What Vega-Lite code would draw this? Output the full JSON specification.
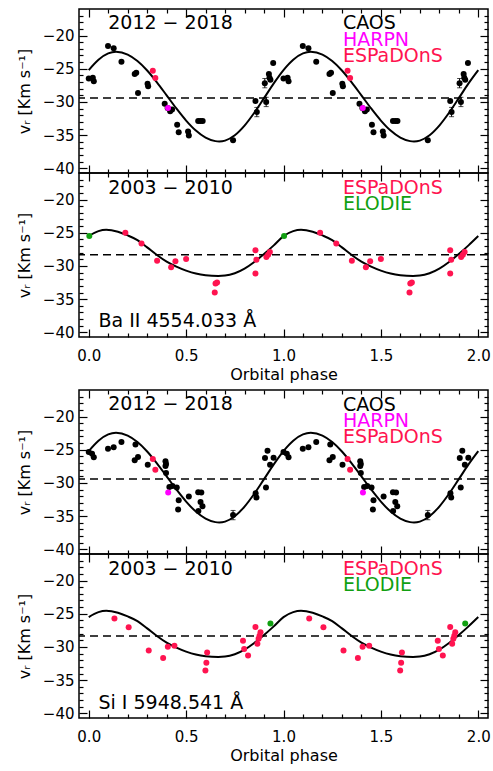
{
  "$schema": "https://vega.github.io/schema/vega-lite/v6.json",
  "padding": {"left": 15, "top": 7, "right": 0, "bottom": 0},
  "datasets": {
    "fit_2012": [
      {"phase": 0.00, "v": -25.20}, {"phase": 0.05, "v": -23.64}, {"phase": 0.10, "v": -22.69}, {"phase": 0.14, "v": -22.45},
      {"phase": 0.20, "v": -22.87}, {"phase": 0.25, "v": -23.84}, {"phase": 0.30, "v": -25.26}, {"phase": 0.35, "v": -27.04},
      {"phase": 0.40, "v": -29.00}, {"phase": 0.45, "v": -30.98}, {"phase": 0.50, "v": -32.80}, {"phase": 0.55, "v": -34.31},
      {"phase": 0.60, "v": -35.38}, {"phase": 0.65, "v": -35.90}, {"phase": 0.67, "v": -35.95}, {"phase": 0.70, "v": -35.82},
      {"phase": 0.75, "v": -35.01}, {"phase": 0.80, "v": -33.56}, {"phase": 0.85, "v": -31.63}, {"phase": 0.90, "v": -29.43},
      {"phase": 0.95, "v": -27.20}, {"phase": 1.00, "v": -25.20}, {"phase": 1.05, "v": -23.64}, {"phase": 1.10, "v": -22.69},
      {"phase": 1.14, "v": -22.45}, {"phase": 1.20, "v": -22.87}, {"phase": 1.25, "v": -23.84}, {"phase": 1.30, "v": -25.26},
      {"phase": 1.35, "v": -27.04}, {"phase": 1.40, "v": -29.00}, {"phase": 1.45, "v": -30.98}, {"phase": 1.50, "v": -32.80},
      {"phase": 1.55, "v": -34.31}, {"phase": 1.60, "v": -35.38}, {"phase": 1.65, "v": -35.90}, {"phase": 1.67, "v": -35.95},
      {"phase": 1.70, "v": -35.82}, {"phase": 1.75, "v": -35.01}, {"phase": 1.80, "v": -33.56}, {"phase": 1.85, "v": -31.63},
      {"phase": 1.90, "v": -29.43}, {"phase": 1.95, "v": -27.20}, {"phase": 2.00, "v": -25.20}
    ],
    "fit_2003": [
      {"phase": 0.00, "v": -25.50}, {"phase": 0.05, "v": -24.75}, {"phase": 0.09, "v": -24.55}, {"phase": 0.15, "v": -24.85},
      {"phase": 0.20, "v": -25.40}, {"phase": 0.25, "v": -26.10}, {"phase": 0.30, "v": -27.20}, {"phase": 0.35, "v": -28.35},
      {"phase": 0.40, "v": -29.35}, {"phase": 0.45, "v": -30.10}, {"phase": 0.50, "v": -30.70}, {"phase": 0.55, "v": -31.15},
      {"phase": 0.60, "v": -31.40}, {"phase": 0.665, "v": -31.50}, {"phase": 0.70, "v": -31.45}, {"phase": 0.75, "v": -31.10},
      {"phase": 0.80, "v": -30.40}, {"phase": 0.85, "v": -29.40}, {"phase": 0.90, "v": -28.20}, {"phase": 0.95, "v": -26.90},
      {"phase": 1.00, "v": -25.50}, {"phase": 1.05, "v": -24.75}, {"phase": 1.09, "v": -24.55}, {"phase": 1.15, "v": -24.85},
      {"phase": 1.20, "v": -25.40}, {"phase": 1.25, "v": -26.10}, {"phase": 1.30, "v": -27.20}, {"phase": 1.35, "v": -28.35},
      {"phase": 1.40, "v": -29.35}, {"phase": 1.45, "v": -30.10}, {"phase": 1.50, "v": -30.70}, {"phase": 1.55, "v": -31.15},
      {"phase": 1.60, "v": -31.40}, {"phase": 1.665, "v": -31.50}, {"phase": 1.70, "v": -31.45}, {"phase": 1.75, "v": -31.10},
      {"phase": 1.80, "v": -30.40}, {"phase": 1.85, "v": -29.40}, {"phase": 1.90, "v": -28.20}, {"phase": 1.95, "v": -26.90},
      {"phase": 2.00, "v": -25.50}
    ],
    "ba_2012": [
      {"phase": 0.000, "v": -26.47, "inst": "CAOS"}, {"phase": 1.000, "v": -26.47, "inst": "CAOS"},
      {"phase": 0.021, "v": -26.36, "inst": "CAOS"}, {"phase": 1.021, "v": -26.36, "inst": "CAOS"},
      {"phase": 0.026, "v": -26.87, "inst": "CAOS"}, {"phase": 1.026, "v": -26.87, "inst": "CAOS"},
      {"phase": 0.099, "v": -21.56, "inst": "CAOS"}, {"phase": 1.099, "v": -21.56, "inst": "CAOS"},
      {"phase": 0.128, "v": -21.92, "inst": "CAOS"}, {"phase": 1.128, "v": -21.92, "inst": "CAOS"},
      {"phase": 0.168, "v": -23.94, "inst": "CAOS"}, {"phase": 1.168, "v": -23.94, "inst": "CAOS"},
      {"phase": 0.236, "v": -25.80, "inst": "CAOS"}, {"phase": 1.236, "v": -25.80, "inst": "CAOS"},
      {"phase": 0.244, "v": -25.60, "inst": "CAOS"}, {"phase": 1.244, "v": -25.60, "inst": "CAOS"},
      {"phase": 0.253, "v": -28.64, "inst": "CAOS"}, {"phase": 1.253, "v": -28.64, "inst": "CAOS"},
      {"phase": 0.302, "v": -27.25, "inst": "CAOS"}, {"phase": 1.302, "v": -27.25, "inst": "CAOS"},
      {"phase": 0.305, "v": -27.65, "inst": "CAOS"}, {"phase": 1.305, "v": -27.65, "inst": "CAOS"},
      {"phase": 0.390, "v": -30.26, "inst": "CAOS"}, {"phase": 1.390, "v": -30.26, "inst": "CAOS"},
      {"phase": 0.405, "v": -30.90, "inst": "CAOS"}, {"phase": 1.405, "v": -30.90, "inst": "CAOS"},
      {"phase": 0.418, "v": -31.40, "inst": "CAOS"}, {"phase": 1.418, "v": -31.40, "inst": "CAOS"},
      {"phase": 0.428, "v": -31.15, "inst": "CAOS"}, {"phase": 1.428, "v": -31.15, "inst": "CAOS"},
      {"phase": 0.454, "v": -33.43, "inst": "CAOS"}, {"phase": 1.454, "v": -33.43, "inst": "CAOS"},
      {"phase": 0.462, "v": -34.55, "inst": "CAOS"}, {"phase": 1.462, "v": -34.55, "inst": "CAOS"},
      {"phase": 0.510, "v": -34.44, "inst": "CAOS"}, {"phase": 1.510, "v": -34.44, "inst": "CAOS"},
      {"phase": 0.514, "v": -35.05, "inst": "CAOS"}, {"phase": 1.514, "v": -35.05, "inst": "CAOS"},
      {"phase": 0.562, "v": -32.88, "inst": "CAOS"}, {"phase": 1.562, "v": -32.88, "inst": "CAOS"},
      {"phase": 0.574, "v": -32.88, "inst": "CAOS"}, {"phase": 1.574, "v": -32.88, "inst": "CAOS"},
      {"phase": 0.585, "v": -32.88, "inst": "CAOS"}, {"phase": 1.585, "v": -32.88, "inst": "CAOS"},
      {"phase": 0.741, "v": -35.76, "inst": "CAOS"}, {"phase": 1.741, "v": -35.76, "inst": "CAOS"},
      {"phase": 0.856, "v": -29.85, "inst": "CAOS"}, {"phase": 1.856, "v": -29.85, "inst": "CAOS"},
      {"phase": 0.863, "v": -31.52, "inst": "CAOS"}, {"phase": 1.863, "v": -31.52, "inst": "CAOS"},
      {"phase": 0.904, "v": -27.17, "inst": "CAOS"}, {"phase": 1.904, "v": -27.17, "inst": "CAOS"},
      {"phase": 0.911, "v": -30.00, "inst": "CAOS"}, {"phase": 1.911, "v": -30.00, "inst": "CAOS"},
      {"phase": 0.925, "v": -25.80, "inst": "CAOS"}, {"phase": 1.925, "v": -25.80, "inst": "CAOS"},
      {"phase": 0.928, "v": -26.36, "inst": "CAOS"}, {"phase": 1.928, "v": -26.36, "inst": "CAOS"},
      {"phase": 0.933, "v": -26.67, "inst": "CAOS"}, {"phase": 1.933, "v": -26.67, "inst": "CAOS"},
      {"phase": 0.947, "v": -24.14, "inst": "CAOS"}, {"phase": 1.947, "v": -24.14, "inst": "CAOS"},
      {"phase": 0.329, "v": -25.30, "inst": "ESPaDOnS"}, {"phase": 1.329, "v": -25.30, "inst": "ESPaDOnS"},
      {"phase": 0.342, "v": -26.41, "inst": "ESPaDOnS"}, {"phase": 1.342, "v": -26.41, "inst": "ESPaDOnS"},
      {"phase": 0.407, "v": -30.91, "inst": "HARPN"}, {"phase": 1.407, "v": -30.91, "inst": "HARPN"}
    ],
    "ba_2012_err": [
      {"phase": 0.863, "lo": -32.22, "hi": -30.82}, {"phase": 1.863, "lo": -32.22, "hi": -30.82},
      {"phase": 0.904, "lo": -27.87, "hi": -26.47}, {"phase": 1.904, "lo": -27.87, "hi": -26.47},
      {"phase": 0.911, "lo": -30.70, "hi": -29.30}, {"phase": 1.911, "lo": -30.70, "hi": -29.30}
    ],
    "ba_2003": [
      {"phase": 0.188, "v": -25.00, "inst": "ESPaDOnS"}, {"phase": 1.188, "v": -25.00, "inst": "ESPaDOnS"},
      {"phase": 0.271, "v": -26.60, "inst": "ESPaDOnS"}, {"phase": 1.271, "v": -26.60, "inst": "ESPaDOnS"},
      {"phase": 0.351, "v": -29.20, "inst": "ESPaDOnS"}, {"phase": 1.351, "v": -29.20, "inst": "ESPaDOnS"},
      {"phase": 0.423, "v": -30.20, "inst": "ESPaDOnS"}, {"phase": 1.423, "v": -30.20, "inst": "ESPaDOnS"},
      {"phase": 0.445, "v": -29.30, "inst": "ESPaDOnS"}, {"phase": 1.445, "v": -29.30, "inst": "ESPaDOnS"},
      {"phase": 0.500, "v": -28.95, "inst": "ESPaDOnS"}, {"phase": 1.500, "v": -28.95, "inst": "ESPaDOnS"},
      {"phase": 0.647, "v": -34.00, "inst": "ESPaDOnS"}, {"phase": 1.647, "v": -34.00, "inst": "ESPaDOnS"},
      {"phase": 0.651, "v": -32.65, "inst": "ESPaDOnS"}, {"phase": 1.651, "v": -32.65, "inst": "ESPaDOnS"},
      {"phase": 0.659, "v": -32.50, "inst": "ESPaDOnS"}, {"phase": 1.659, "v": -32.50, "inst": "ESPaDOnS"},
      {"phase": 0.856, "v": -27.65, "inst": "ESPaDOnS"}, {"phase": 1.856, "v": -27.65, "inst": "ESPaDOnS"},
      {"phase": 0.861, "v": -29.05, "inst": "ESPaDOnS"}, {"phase": 1.861, "v": -29.05, "inst": "ESPaDOnS"},
      {"phase": 0.856, "v": -31.15, "inst": "ESPaDOnS"}, {"phase": 1.856, "v": -31.15, "inst": "ESPaDOnS"},
      {"phase": 0.912, "v": -28.65, "inst": "ESPaDOnS"}, {"phase": 1.912, "v": -28.65, "inst": "ESPaDOnS"},
      {"phase": 0.921, "v": -28.30, "inst": "ESPaDOnS"}, {"phase": 1.921, "v": -28.30, "inst": "ESPaDOnS"},
      {"phase": 0.930, "v": -27.90, "inst": "ESPaDOnS"}, {"phase": 1.930, "v": -27.90, "inst": "ESPaDOnS"},
      {"phase": 0.003, "v": -25.50, "inst": "ELODIE"}, {"phase": 1.003, "v": -25.50, "inst": "ELODIE"}
    ],
    "si_2012": [
      {"phase": 0.000, "v": -25.32, "inst": "CAOS"}, {"phase": 1.000, "v": -25.32, "inst": "CAOS"},
      {"phase": 0.017, "v": -25.62, "inst": "CAOS"}, {"phase": 1.017, "v": -25.62, "inst": "CAOS"},
      {"phase": 0.026, "v": -26.13, "inst": "CAOS"}, {"phase": 1.026, "v": -26.13, "inst": "CAOS"},
      {"phase": 0.099, "v": -24.86, "inst": "CAOS"}, {"phase": 1.099, "v": -24.86, "inst": "CAOS"},
      {"phase": 0.128, "v": -24.61, "inst": "CAOS"}, {"phase": 1.128, "v": -24.61, "inst": "CAOS"},
      {"phase": 0.168, "v": -23.85, "inst": "CAOS"}, {"phase": 1.168, "v": -23.85, "inst": "CAOS"},
      {"phase": 0.240, "v": -24.20, "inst": "CAOS"}, {"phase": 1.240, "v": -24.20, "inst": "CAOS"},
      {"phase": 0.236, "v": -26.58, "inst": "CAOS"}, {"phase": 1.236, "v": -26.58, "inst": "CAOS"},
      {"phase": 0.253, "v": -26.08, "inst": "CAOS"}, {"phase": 1.253, "v": -26.08, "inst": "CAOS"},
      {"phase": 0.303, "v": -27.24, "inst": "CAOS"}, {"phase": 1.303, "v": -27.24, "inst": "CAOS"},
      {"phase": 0.394, "v": -26.73, "inst": "CAOS"}, {"phase": 1.394, "v": -26.73, "inst": "CAOS"},
      {"phase": 0.397, "v": -27.14, "inst": "CAOS"}, {"phase": 1.397, "v": -27.14, "inst": "CAOS"},
      {"phase": 0.394, "v": -27.45, "inst": "CAOS"}, {"phase": 1.394, "v": -27.45, "inst": "CAOS"},
      {"phase": 0.397, "v": -28.51, "inst": "CAOS"}, {"phase": 1.397, "v": -28.51, "inst": "CAOS"},
      {"phase": 0.414, "v": -30.60, "inst": "CAOS"}, {"phase": 1.414, "v": -30.60, "inst": "CAOS"},
      {"phase": 0.430, "v": -30.45, "inst": "CAOS"}, {"phase": 1.430, "v": -30.45, "inst": "CAOS"},
      {"phase": 0.452, "v": -30.70, "inst": "CAOS"}, {"phase": 1.452, "v": -30.70, "inst": "CAOS"},
      {"phase": 0.462, "v": -32.60, "inst": "CAOS"}, {"phase": 1.462, "v": -32.60, "inst": "CAOS"},
      {"phase": 0.459, "v": -34.00, "inst": "CAOS"}, {"phase": 1.459, "v": -34.00, "inst": "CAOS"},
      {"phase": 0.514, "v": -32.05, "inst": "CAOS"}, {"phase": 1.514, "v": -32.05, "inst": "CAOS"},
      {"phase": 0.562, "v": -31.39, "inst": "CAOS"}, {"phase": 1.562, "v": -31.39, "inst": "CAOS"},
      {"phase": 0.578, "v": -31.45, "inst": "CAOS"}, {"phase": 1.578, "v": -31.45, "inst": "CAOS"},
      {"phase": 0.574, "v": -32.85, "inst": "CAOS"}, {"phase": 1.574, "v": -32.85, "inst": "CAOS"},
      {"phase": 0.584, "v": -33.50, "inst": "CAOS"}, {"phase": 1.584, "v": -33.50, "inst": "CAOS"},
      {"phase": 0.563, "v": -34.23, "inst": "CAOS"}, {"phase": 1.563, "v": -34.23, "inst": "CAOS"},
      {"phase": 0.741, "v": -34.84, "inst": "CAOS"}, {"phase": 1.741, "v": -34.84, "inst": "CAOS"},
      {"phase": 0.857, "v": -31.55, "inst": "CAOS"}, {"phase": 1.857, "v": -31.55, "inst": "CAOS"},
      {"phase": 0.861, "v": -32.20, "inst": "CAOS"}, {"phase": 1.861, "v": -32.20, "inst": "CAOS"},
      {"phase": 0.905, "v": -26.25, "inst": "CAOS"}, {"phase": 1.905, "v": -26.25, "inst": "CAOS"},
      {"phase": 0.918, "v": -25.15, "inst": "CAOS"}, {"phase": 1.918, "v": -25.15, "inst": "CAOS"},
      {"phase": 0.931, "v": -27.25, "inst": "CAOS"}, {"phase": 1.931, "v": -27.25, "inst": "CAOS"},
      {"phase": 0.949, "v": -26.20, "inst": "CAOS"}, {"phase": 1.949, "v": -26.20, "inst": "CAOS"},
      {"phase": 0.910, "v": -30.70, "inst": "CAOS"}, {"phase": 1.910, "v": -30.70, "inst": "CAOS"},
      {"phase": 0.329, "v": -26.38, "inst": "ESPaDOnS"}, {"phase": 1.329, "v": -26.38, "inst": "ESPaDOnS"},
      {"phase": 0.342, "v": -28.00, "inst": "ESPaDOnS"}, {"phase": 1.342, "v": -28.00, "inst": "ESPaDOnS"},
      {"phase": 0.408, "v": -31.44, "inst": "HARPN"}, {"phase": 1.408, "v": -31.44, "inst": "HARPN"}
    ],
    "si_2012_err": [
      {"phase": 0.741, "lo": -35.54, "hi": -34.14}, {"phase": 1.741, "lo": -35.54, "hi": -34.14}
    ],
    "si_2003": [
      {"phase": 0.132, "v": -25.71, "inst": "ESPaDOnS"}, {"phase": 1.132, "v": -25.71, "inst": "ESPaDOnS"},
      {"phase": 0.205, "v": -27.03, "inst": "ESPaDOnS"}, {"phase": 1.205, "v": -27.03, "inst": "ESPaDOnS"},
      {"phase": 0.308, "v": -30.52, "inst": "ESPaDOnS"}, {"phase": 1.308, "v": -30.52, "inst": "ESPaDOnS"},
      {"phase": 0.382, "v": -31.68, "inst": "ESPaDOnS"}, {"phase": 1.382, "v": -31.68, "inst": "ESPaDOnS"},
      {"phase": 0.406, "v": -29.96, "inst": "ESPaDOnS"}, {"phase": 1.406, "v": -29.96, "inst": "ESPaDOnS"},
      {"phase": 0.440, "v": -29.81, "inst": "ESPaDOnS"}, {"phase": 1.440, "v": -29.81, "inst": "ESPaDOnS"},
      {"phase": 0.608, "v": -30.82, "inst": "ESPaDOnS"}, {"phase": 1.608, "v": -30.82, "inst": "ESPaDOnS"},
      {"phase": 0.604, "v": -32.39, "inst": "ESPaDOnS"}, {"phase": 1.604, "v": -32.39, "inst": "ESPaDOnS"},
      {"phase": 0.599, "v": -33.56, "inst": "ESPaDOnS"}, {"phase": 1.599, "v": -33.56, "inst": "ESPaDOnS"},
      {"phase": 0.792, "v": -29.05, "inst": "ESPaDOnS"}, {"phase": 1.792, "v": -29.05, "inst": "ESPaDOnS"},
      {"phase": 0.798, "v": -30.30, "inst": "ESPaDOnS"}, {"phase": 1.798, "v": -30.30, "inst": "ESPaDOnS"},
      {"phase": 0.818, "v": -31.28, "inst": "ESPaDOnS"}, {"phase": 1.818, "v": -31.28, "inst": "ESPaDOnS"},
      {"phase": 0.856, "v": -27.00, "inst": "ESPaDOnS"}, {"phase": 1.856, "v": -27.00, "inst": "ESPaDOnS"},
      {"phase": 0.882, "v": -27.80, "inst": "ESPaDOnS"}, {"phase": 1.882, "v": -27.80, "inst": "ESPaDOnS"},
      {"phase": 0.877, "v": -28.30, "inst": "ESPaDOnS"}, {"phase": 1.877, "v": -28.30, "inst": "ESPaDOnS"},
      {"phase": 0.872, "v": -28.75, "inst": "ESPaDOnS"}, {"phase": 1.872, "v": -28.75, "inst": "ESPaDOnS"},
      {"phase": 0.866, "v": -29.50, "inst": "ESPaDOnS"}, {"phase": 1.866, "v": -29.50, "inst": "ESPaDOnS"},
      {"phase": 0.933, "v": -26.47, "inst": "ELODIE"}, {"phase": 1.933, "v": -26.47, "inst": "ELODIE"}
    ]
  },
  "vconcat": [
    {
      "spacing": 0,
      "bounds": "flush",
      "vconcat": [
        {
          "width": 409, "height": 164,
          "layer": [
            {"data": {"name": "fit_2012"},
             "mark": {"type": "line", "color": "black", "strokeWidth": 2, "interpolate": "monotone"},
             "encoding": {
               "x": {"field": "phase", "type": "quantitative", "scale": {"domain": [-0.05, 2.05], "nice": false, "zero": false},
                     "axis": {"orient": "bottom", "values": [0, 0.5, 1, 1.5, 2], "tickSize": -8, "labels": false, "title": null}},
               "y": {"field": "v", "type": "quantitative", "scale": {"domain": [-40.7, -16], "nice": false, "zero": false},
                     "axis": {"orient": "left", "values": [-40, -35, -30, -25, -20], "tickSize": -8, "labelPadding": 13, "format": "d", "title": "vᵣ [Km s⁻¹]", "titlePadding": 10}}
             }},
            {"data": {"values": [{}]},
             "mark": {"type": "rule", "color": "black", "strokeWidth": 1.5, "strokeDash": [8, 5]},
             "encoding": {"y": {"datum": -29.4, "type": "quantitative", "axis": null}}},
            {"data": {"name": "ba_2012"},
             "mark": {"type": "circle", "size": 36, "opacity": 1},
             "encoding": {
               "x": {"field": "phase", "type": "quantitative",
                     "axis": {"orient": "bottom", "values": [0.1, 0.2, 0.3, 0.4, 0.6, 0.7, 0.8, 0.9, 1.1, 1.2, 1.3, 1.4, 1.6, 1.7, 1.8, 1.9], "tickSize": -4, "labels": false, "title": null}},
               "y": {"field": "v", "type": "quantitative",
                     "axis": {"orient": "left", "values": [-39, -38, -37, -36, -34, -33, -32, -31, -29, -28, -27, -26, -24, -23, -22, -21, -19, -18, -17], "tickSize": -4, "labels": false, "title": null}},
               "color": {"field": "inst", "type": "nominal", "legend": null,
                         "scale": {"domain": ["CAOS", "HARPN", "ESPaDOnS", "ELODIE"], "range": ["#000000", "#ff00ff", "#ff1450", "#11a011"]}}
             }},
            {"data": {"name": "ba_2012_err"},
             "mark": {"type": "errorbar", "color": "black", "thickness": 1, "ticks": {"size": 5, "thickness": 1}},
             "encoding": {
               "x": {"field": "phase", "type": "quantitative", "axis": null},
               "y": {"field": "lo", "type": "quantitative", "axis": null},
               "y2": {"field": "hi"}
             }},
            {"data": {"values": [{}]},
             "mark": {"type": "text", "align": "left", "baseline": "alphabetic", "color": "black"},
             "encoding": {
               "x": {"datum": 0.1, "type": "quantitative", "axis": {"orient": "top", "values": [0, 0.5, 1, 1.5, 2], "tickSize": -8, "labels": false, "title": null}},
               "y": {"datum": -19.0, "type": "quantitative", "axis": {"orient": "right", "values": [-40, -35, -30, -25, -20], "tickSize": -8, "labels": false, "title": null}},
               "text": {"value": "2012  −  2018"}
             }},
            {"data": {"values": [{}]},
             "mark": {"type": "text", "align": "left", "baseline": "alphabetic", "color": "black"},
             "encoding": {
               "x": {"datum": 1.305, "type": "quantitative", "axis": {"orient": "top", "values": [0.1, 0.2, 0.3, 0.4, 0.6, 0.7, 0.8, 0.9, 1.1, 1.2, 1.3, 1.4, 1.6, 1.7, 1.8, 1.9], "tickSize": -4, "labels": false, "title": null}},
               "y": {"datum": -19.0, "type": "quantitative", "axis": {"orient": "right", "values": [-39, -38, -37, -36, -34, -33, -32, -31, -29, -28, -27, -26, -24, -23, -22, -21, -19, -18, -17], "tickSize": -4, "labels": false, "title": null}},
               "text": {"value": "CAOS"}
             }},
            {"data": {"values": [{}]},
             "mark": {"type": "text", "align": "left", "baseline": "alphabetic", "color": "#ff00ff"},
             "encoding": {
               "x": {"datum": 1.305, "type": "quantitative", "axis": null},
               "y": {"datum": -21.5, "type": "quantitative", "axis": null},
               "text": {"value": "HARPN"}
             }},
            {"data": {"values": [{}]},
             "mark": {"type": "text", "align": "left", "baseline": "alphabetic", "color": "#ff1450"},
             "encoding": {
               "x": {"datum": 1.305, "type": "quantitative", "axis": null},
               "y": {"datum": -24.0, "type": "quantitative", "axis": null},
               "text": {"value": "ESPaDOnS"}
             }}
          ],
          "resolve": {"axis": {"x": "independent", "y": "independent"}}
        },
        {
          "width": 409, "height": 164,
          "layer": [
            {"data": {"name": "fit_2003"},
             "mark": {"type": "line", "color": "black", "strokeWidth": 2, "interpolate": "monotone"},
             "encoding": {
               "x": {"field": "phase", "type": "quantitative", "scale": {"domain": [-0.05, 2.05], "nice": false, "zero": false},
                     "axis": {"orient": "bottom", "values": [0, 0.5, 1, 1.5, 2], "tickSize": -8, "labelPadding": 19, "format": ".1f", "title": "Orbital phase", "titlePadding": 3}},
               "y": {"field": "v", "type": "quantitative", "scale": {"domain": [-40.7, -16], "nice": false, "zero": false},
                     "axis": {"orient": "left", "values": [-40, -35, -30, -25, -20], "tickSize": -8, "labelPadding": 13, "format": "d", "title": "vᵣ [Km s⁻¹]", "titlePadding": 10}}
             }},
            {"data": {"values": [{}]},
             "mark": {"type": "rule", "color": "black", "strokeWidth": 1.5, "strokeDash": [8, 5]},
             "encoding": {"y": {"datum": -28.3, "type": "quantitative", "axis": null}}},
            {"data": {"name": "ba_2003"},
             "mark": {"type": "circle", "size": 36, "opacity": 1},
             "encoding": {
               "x": {"field": "phase", "type": "quantitative",
                     "axis": {"orient": "bottom", "values": [0.1, 0.2, 0.3, 0.4, 0.6, 0.7, 0.8, 0.9, 1.1, 1.2, 1.3, 1.4, 1.6, 1.7, 1.8, 1.9], "tickSize": -4, "labels": false, "title": null}},
               "y": {"field": "v", "type": "quantitative",
                     "axis": {"orient": "left", "values": [-39, -38, -37, -36, -34, -33, -32, -31, -29, -28, -27, -26, -24, -23, -22, -21, -19, -18, -17], "tickSize": -4, "labels": false, "title": null}},
               "color": {"field": "inst", "type": "nominal", "legend": null,
                         "scale": {"domain": ["CAOS", "HARPN", "ESPaDOnS", "ELODIE"], "range": ["#000000", "#ff00ff", "#ff1450", "#11a011"]}}
             }},
            {"data": {"values": [{}]},
             "mark": {"type": "text", "align": "left", "baseline": "alphabetic", "color": "black"},
             "encoding": {
               "x": {"datum": 0.1, "type": "quantitative", "axis": {"orient": "top", "values": [0, 0.5, 1, 1.5, 2], "tickSize": -8, "labels": false, "title": null}},
               "y": {"datum": -19.1, "type": "quantitative", "axis": {"orient": "right", "values": [-40, -35, -30, -25, -20], "tickSize": -8, "labels": false, "title": null}},
               "text": {"value": "2003  −  2010"}
             }},
            {"data": {"values": [{}]},
             "mark": {"type": "text", "align": "left", "baseline": "alphabetic", "color": "#ff1450"},
             "encoding": {
               "x": {"datum": 1.305, "type": "quantitative", "axis": {"orient": "top", "values": [0.1, 0.2, 0.3, 0.4, 0.6, 0.7, 0.8, 0.9, 1.1, 1.2, 1.3, 1.4, 1.6, 1.7, 1.8, 1.9], "tickSize": -4, "labels": false, "title": null}},
               "y": {"datum": -19.1, "type": "quantitative", "axis": {"orient": "right", "values": [-39, -38, -37, -36, -34, -33, -32, -31, -29, -28, -27, -26, -24, -23, -22, -21, -19, -18, -17], "tickSize": -4, "labels": false, "title": null}},
               "text": {"value": "ESPaDOnS"}
             }},
            {"data": {"values": [{}]},
             "mark": {"type": "text", "align": "left", "baseline": "alphabetic", "color": "#11a011"},
             "encoding": {
               "x": {"datum": 1.305, "type": "quantitative", "axis": null},
               "y": {"datum": -21.6, "type": "quantitative", "axis": null},
               "text": {"value": "ELODIE"}
             }},
            {"data": {"values": [{}]},
             "mark": {"type": "text", "align": "left", "baseline": "alphabetic", "color": "black"},
             "encoding": {
               "x": {"datum": 0.05, "type": "quantitative", "axis": null},
               "y": {"datum": -39.25, "type": "quantitative", "axis": null},
               "text": {"value": "Ba  II  4554.033  Å"}
             }}
          ],
          "resolve": {"axis": {"x": "independent", "y": "independent"}}
        }
      ]
    },
    {
      "spacing": 0,
      "bounds": "flush",
      "vconcat": [
        {
          "width": 409, "height": 164,
          "layer": [
            {"data": {"name": "fit_2012"},
             "mark": {"type": "line", "color": "black", "strokeWidth": 2, "interpolate": "monotone"},
             "encoding": {
               "x": {"field": "phase", "type": "quantitative", "scale": {"domain": [-0.05, 2.05], "nice": false, "zero": false},
                     "axis": {"orient": "bottom", "values": [0, 0.5, 1, 1.5, 2], "tickSize": -8, "labels": false, "title": null}},
               "y": {"field": "v", "type": "quantitative", "scale": {"domain": [-40.7, -16], "nice": false, "zero": false},
                     "axis": {"orient": "left", "values": [-40, -35, -30, -25, -20], "tickSize": -8, "labelPadding": 13, "format": "d", "title": "vᵣ [Km s⁻¹]", "titlePadding": 10}}
             }},
            {"data": {"values": [{}]},
             "mark": {"type": "rule", "color": "black", "strokeWidth": 1.5, "strokeDash": [8, 5]},
             "encoding": {"y": {"datum": -29.4, "type": "quantitative", "axis": null}}},
            {"data": {"name": "si_2012"},
             "mark": {"type": "circle", "size": 36, "opacity": 1},
             "encoding": {
               "x": {"field": "phase", "type": "quantitative",
                     "axis": {"orient": "bottom", "values": [0.1, 0.2, 0.3, 0.4, 0.6, 0.7, 0.8, 0.9, 1.1, 1.2, 1.3, 1.4, 1.6, 1.7, 1.8, 1.9], "tickSize": -4, "labels": false, "title": null}},
               "y": {"field": "v", "type": "quantitative",
                     "axis": {"orient": "left", "values": [-39, -38, -37, -36, -34, -33, -32, -31, -29, -28, -27, -26, -24, -23, -22, -21, -19, -18, -17], "tickSize": -4, "labels": false, "title": null}},
               "color": {"field": "inst", "type": "nominal", "legend": null,
                         "scale": {"domain": ["CAOS", "HARPN", "ESPaDOnS", "ELODIE"], "range": ["#000000", "#ff00ff", "#ff1450", "#11a011"]}}
             }},
            {"data": {"name": "si_2012_err"},
             "mark": {"type": "errorbar", "color": "black", "thickness": 1, "ticks": {"size": 5, "thickness": 1}},
             "encoding": {
               "x": {"field": "phase", "type": "quantitative", "axis": null},
               "y": {"field": "lo", "type": "quantitative", "axis": null},
               "y2": {"field": "hi"}
             }},
            {"data": {"values": [{}]},
             "mark": {"type": "text", "align": "left", "baseline": "alphabetic", "color": "black"},
             "encoding": {
               "x": {"datum": 0.1, "type": "quantitative", "axis": {"orient": "top", "values": [0, 0.5, 1, 1.5, 2], "tickSize": -8, "labels": false, "title": null}},
               "y": {"datum": -19.0, "type": "quantitative", "axis": {"orient": "right", "values": [-40, -35, -30, -25, -20], "tickSize": -8, "labels": false, "title": null}},
               "text": {"value": "2012  −  2018"}
             }},
            {"data": {"values": [{}]},
             "mark": {"type": "text", "align": "left", "baseline": "alphabetic", "color": "black"},
             "encoding": {
               "x": {"datum": 1.305, "type": "quantitative", "axis": {"orient": "top", "values": [0.1, 0.2, 0.3, 0.4, 0.6, 0.7, 0.8, 0.9, 1.1, 1.2, 1.3, 1.4, 1.6, 1.7, 1.8, 1.9], "tickSize": -4, "labels": false, "title": null}},
               "y": {"datum": -19.1, "type": "quantitative", "axis": {"orient": "right", "values": [-39, -38, -37, -36, -34, -33, -32, -31, -29, -28, -27, -26, -24, -23, -22, -21, -19, -18, -17], "tickSize": -4, "labels": false, "title": null}},
               "text": {"value": "CAOS"}
             }},
            {"data": {"values": [{}]},
             "mark": {"type": "text", "align": "left", "baseline": "alphabetic", "color": "#ff00ff"},
             "encoding": {
               "x": {"datum": 1.305, "type": "quantitative", "axis": null},
               "y": {"datum": -21.55, "type": "quantitative", "axis": null},
               "text": {"value": "HARPN"}
             }},
            {"data": {"values": [{}]},
             "mark": {"type": "text", "align": "left", "baseline": "alphabetic", "color": "#ff1450"},
             "encoding": {
               "x": {"datum": 1.305, "type": "quantitative", "axis": null},
               "y": {"datum": -24.05, "type": "quantitative", "axis": null},
               "text": {"value": "ESPaDOnS"}
             }}
          ],
          "resolve": {"axis": {"x": "independent", "y": "independent"}}
        },
        {
          "width": 409, "height": 164,
          "layer": [
            {"data": {"name": "fit_2003"},
             "mark": {"type": "line", "color": "black", "strokeWidth": 2, "interpolate": "monotone"},
             "encoding": {
               "x": {"field": "phase", "type": "quantitative", "scale": {"domain": [-0.05, 2.05], "nice": false, "zero": false},
                     "axis": {"orient": "bottom", "values": [0, 0.5, 1, 1.5, 2], "tickSize": -8, "labelPadding": 19, "format": ".1f", "title": "Orbital phase", "titlePadding": 3}},
               "y": {"field": "v", "type": "quantitative", "scale": {"domain": [-40.7, -16], "nice": false, "zero": false},
                     "axis": {"orient": "left", "values": [-40, -35, -30, -25, -20], "tickSize": -8, "labelPadding": 13, "format": "d", "title": "vᵣ [Km s⁻¹]", "titlePadding": 10}}
             }},
            {"data": {"values": [{}]},
             "mark": {"type": "rule", "color": "black", "strokeWidth": 1.5, "strokeDash": [8, 5]},
             "encoding": {"y": {"datum": -28.35, "type": "quantitative", "axis": null}}},
            {"data": {"name": "si_2003"},
             "mark": {"type": "circle", "size": 36, "opacity": 1},
             "encoding": {
               "x": {"field": "phase", "type": "quantitative",
                     "axis": {"orient": "bottom", "values": [0.1, 0.2, 0.3, 0.4, 0.6, 0.7, 0.8, 0.9, 1.1, 1.2, 1.3, 1.4, 1.6, 1.7, 1.8, 1.9], "tickSize": -4, "labels": false, "title": null}},
               "y": {"field": "v", "type": "quantitative",
                     "axis": {"orient": "left", "values": [-39, -38, -37, -36, -34, -33, -32, -31, -29, -28, -27, -26, -24, -23, -22, -21, -19, -18, -17], "tickSize": -4, "labels": false, "title": null}},
               "color": {"field": "inst", "type": "nominal", "legend": null,
                         "scale": {"domain": ["CAOS", "HARPN", "ESPaDOnS", "ELODIE"], "range": ["#000000", "#ff00ff", "#ff1450", "#11a011"]}}
             }},
            {"data": {"values": [{}]},
             "mark": {"type": "text", "align": "left", "baseline": "alphabetic", "color": "black"},
             "encoding": {
               "x": {"datum": 0.1, "type": "quantitative", "axis": {"orient": "top", "values": [0, 0.5, 1, 1.5, 2], "tickSize": -8, "labels": false, "title": null}},
               "y": {"datum": -19.1, "type": "quantitative", "axis": {"orient": "right", "values": [-40, -35, -30, -25, -20], "tickSize": -8, "labels": false, "title": null}},
               "text": {"value": "2003  −  2010"}
             }},
            {"data": {"values": [{}]},
             "mark": {"type": "text", "align": "left", "baseline": "alphabetic", "color": "#ff1450"},
             "encoding": {
               "x": {"datum": 1.305, "type": "quantitative", "axis": {"orient": "top", "values": [0.1, 0.2, 0.3, 0.4, 0.6, 0.7, 0.8, 0.9, 1.1, 1.2, 1.3, 1.4, 1.6, 1.7, 1.8, 1.9], "tickSize": -4, "labels": false, "title": null}},
               "y": {"datum": -19.1, "type": "quantitative", "axis": {"orient": "right", "values": [-39, -38, -37, -36, -34, -33, -32, -31, -29, -28, -27, -26, -24, -23, -22, -21, -19, -18, -17], "tickSize": -4, "labels": false, "title": null}},
               "text": {"value": "ESPaDOnS"}
             }},
            {"data": {"values": [{}]},
             "mark": {"type": "text", "align": "left", "baseline": "alphabetic", "color": "#11a011"},
             "encoding": {
               "x": {"datum": 1.305, "type": "quantitative", "axis": null},
               "y": {"datum": -21.6, "type": "quantitative", "axis": null},
               "text": {"value": "ELODIE"}
             }},
            {"data": {"values": [{}]},
             "mark": {"type": "text", "align": "left", "baseline": "alphabetic", "color": "black"},
             "encoding": {
               "x": {"datum": 0.05, "type": "quantitative", "axis": null},
               "y": {"datum": -39.35, "type": "quantitative", "axis": null},
               "text": {"value": "Si  I  5948.541  Å"}
             }}
          ],
          "resolve": {"axis": {"x": "independent", "y": "independent"}}
        }
      ]
    }
  ],
  "spacing": 5,
  "config": {
    "view": {"stroke": "black", "strokeWidth": 1.5},
    "axis": {
      "domain": false, "grid": false, "tickColor": "black", "tickWidth": 1.2,
      "labelFont": "DejaVu Sans", "labelFontSize": 15, "labelColor": "black", "labelFlush": false, "labelOverlap": false,
      "titleFont": "DejaVu Sans", "titleFontSize": 16, "titleFontWeight": "normal", "titleColor": "black"
    },
    "text": {"font": "DejaVu Sans", "fontSize": 19}
  }
}
